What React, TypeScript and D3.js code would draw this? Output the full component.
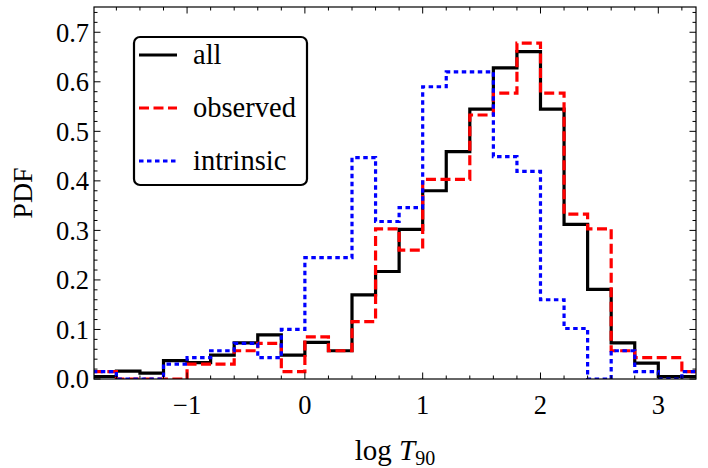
import * as React from 'react'
import * as d3 from 'd3'

// bin left edges, width 0.2
const binEdges = d3.range(26).map((i) => +(-1.8 + 0.2 * i).toFixed(1))

const allPdf = [0.005, 0.016, 0.012, 0.037, 0.033, 0.048, 0.073, 0.089, 0.048, 0.074, 0.057, 0.170, 0.217,
  0.302, 0.380, 0.459, 0.545, 0.628, 0.661, 0.545, 0.312, 0.181, 0.073, 0.032, 0.005, 0.005]
const observedPdf = [0.015, 0, 0, 0, 0.030, 0.030, 0.057, 0.072, 0.015, 0.085, 0.057, 0.116, 0.303,
  0.260, 0.403, 0.403, 0.533, 0.577, 0.678, 0.577, 0.333, 0.303, 0.057, 0.043, 0.043, 0.015]
const intrinsicPdf = [0.015, 0, 0, 0.030, 0.043, 0.057, 0.072, 0.043, 0.100, 0.245, 0.245, 0.447, 0.318,
  0.346, 0.590, 0.620, 0.620, 0.449, 0.419, 0.160, 0.102, 0, 0.057, 0.015, 0, 0.015]

const seriesNames = ['all', 'observed', 'intrinsic']
const xTickValues = [-1, 0, 1, 2, 3]
const yTickValues = [0, 0.1, 0.2, 0.3, 0.4, 0.5, 0.6, 0.7]

const W = 708
const H = 468
const FONT = '"Liberation Serif", "Times New Roman", serif'

const styles = [
  { color: '#000000', dash: null },
  { color: '#ff0000', dash: '10,4.5' },
  { color: '#0000ff', dash: '4.5,3.5' },
]

const App = () => {
  const x = d3.scaleLinear().domain([-1.79, 3.32]).range([94, 696])
  const y = d3.scaleLinear().domain([0, 0.751]).range([379, 7])
  const [x0, x1] = x.range()
  const [y0, y1] = y.range()

  const line = d3.line<[number, number]>()
    .x((d) => x(d[0]))
    .y((d) => y(d[1]))
    .curve(d3.curveStepAfter)

  const pathFor = (vals: number[]) => {
    const pts: [number, number][] = binEdges.map((e, i) => [e, vals[i]])
    pts.push([binEdges[binEdges.length - 1] + 0.2, vals[vals.length - 1]])
    return line(pts)
  }

  const xMinor = d3.range(-18, 34, 2).map((v) => v / 10).filter((v) => v >= -1.79 && v <= 3.32 && !Number.isInteger(v))
  const yMinor = d3.range(0, 76, 2).map((v) => v / 100).filter((v) => Math.round(v * 100) % 10 !== 0)

  const data = [allPdf, observedPdf, intrinsicPdf]

  return (
    <svg width={W} height={H} style={{ position: 'absolute', left: 0, top: 0, background: '#fff' }}
      fontFamily={FONT}>
      <defs>
        <clipPath id="plot-clip">
          <rect x={x0} y={y1} width={x1 - x0} height={y0 - y1} />
        </clipPath>
      </defs>

      <g clipPath="url(#plot-clip)" fill="none" strokeWidth={3.2}>
        {data.map((vals, i) => (
          <path key={i} d={pathFor(vals) || ''} stroke={styles[i].color}
            strokeDasharray={styles[i].dash || undefined} strokeLinejoin="miter" />
        ))}
      </g>

      {/* frame */}
      <rect x={x0} y={y1} width={x1 - x0} height={y0 - y1} fill="none" stroke="#000" strokeWidth={1.2} />

      {/* ticks */}
      <g stroke="#000" strokeWidth={1}>
        {xTickValues.map((v) => (
          <g key={'xt' + v}>
            <line x1={x(v)} x2={x(v)} y1={y0} y2={y0 - 6.5} />
            <line x1={x(v)} x2={x(v)} y1={y1} y2={y1 + 6.5} />
          </g>
        ))}
        {xMinor.map((v) => (
          <g key={'xm' + v}>
            <line x1={x(v)} x2={x(v)} y1={y0} y2={y0 - 3.5} />
            <line x1={x(v)} x2={x(v)} y1={y1} y2={y1 + 3.5} />
          </g>
        ))}
        {yTickValues.map((v) => (
          <g key={'yt' + v}>
            <line x1={x0} x2={x0 + 6.5} y1={y(v)} y2={y(v)} />
            <line x1={x1} x2={x1 - 6.5} y1={y(v)} y2={y(v)} />
          </g>
        ))}
        {yMinor.map((v) => (
          <g key={'ym' + v}>
            <line x1={x0} x2={x0 + 3.5} y1={y(v)} y2={y(v)} />
            <line x1={x1} x2={x1 - 3.5} y1={y(v)} y2={y(v)} />
          </g>
        ))}
      </g>

      {/* tick labels */}
      <g fontSize={26.5} fill="#000">
        {xTickValues.map((v) => (
          <text key={'xl' + v} x={x(v)} y={414} textAnchor="middle">
            {v < 0 ? '\u2212' + Math.abs(v) : String(v)}
          </text>
        ))}
        {yTickValues.map((v) => (
          <text key={'yl' + v} x={89} y={y(v)} dy="0.35em" textAnchor="end">
            {v.toFixed(1)}
          </text>
        ))}
      </g>

      {/* axis labels */}
      <text x={395} y={460} fontSize={29} textAnchor="middle">
        log <tspan fontStyle="italic">T</tspan><tspan dy={4.5} fontSize={20}>90</tspan>
      </text>
      <text transform="translate(32,193) rotate(-90)" fontSize={28} textAnchor="middle">PDF</text>

      {/* legend */}
      <rect x={134} y={37} width={173} height={148} rx={6} ry={6} fill="#fff" stroke="#000" strokeWidth={2.2} />
      {seriesNames.map((name, i) => {
        const ly = 55 + i * 53
        return (
          <g key={name}>
            <line x1={139} x2={177} y1={ly} y2={ly} stroke={styles[i].color} strokeWidth={3.2}
              strokeDasharray={styles[i].dash || undefined} />
            <text x={193} y={ly} dy="0.3em" fontSize={28.5}>{name}</text>
          </g>
        )
      })}
    </svg>
  )
}

export default App
